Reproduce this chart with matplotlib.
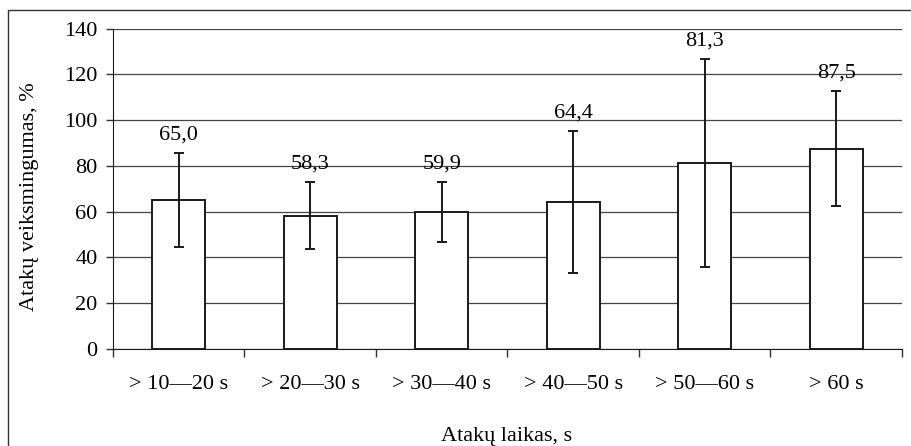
import matplotlib.pyplot as plt
import matplotlib.patches as mpatches
import numpy as np

plt.rcParams['font.family'] = ['Liberation Serif', 'DejaVu Serif']

categories = ['> 10—20 s', '> 20—30 s', '> 30—40 s', '> 40—50 s', '> 50—60 s', '> 60 s']
values = [65.0, 58.3, 59.9, 64.4, 81.3, 87.5]
errors = [20.6, 14.5, 13.1, 31.0, 45.3, 25.1]
value_labels = ['65,0', '58,3', '59,9', '64,4', '81,3', '87,5']

fs = 16

fig = plt.figure(figsize=(9.12, 4.46), dpi=100)
ax = fig.add_axes([113 / 912, 1 - 349 / 446, (902 - 113) / 912, (349 - 28.5) / 446])

# outer frame around the whole chart
frame = mpatches.Rectangle((8 / 912, -0.05), 1.0, 1 - 10 / 446 + 0.05, transform=fig.transFigure,
                           fill=False, edgecolor='#333333', linewidth=1.0)
fig.patches.append(frame)

x = np.arange(len(categories))
ax.bar(x, values, width=0.4, color='white', edgecolor='#1a1a1a', linewidth=1.4, zorder=3)
ax.errorbar(x, values, yerr=errors, fmt='none', ecolor='#1a1a1a', elinewidth=1.4,
            capsize=3.5, capthick=1.4, zorder=4)

for xi, v, e, lab in zip(x, values, errors, value_labels):
    ax.annotate(lab, (xi, v + e), xytext=(0, 6), textcoords='offset points',
                ha='center', va='bottom', fontsize=fs)

ax.set_xlim(-0.5, len(categories) - 0.5)
ax.set_ylim(0, 140)
ax.set_yticks(np.arange(0, 141, 20))
ax.yaxis.grid(True, color='#444444', linewidth=0.9, zorder=0)
ax.set_axisbelow(True)

# ticks at category boundaries, labels at centers
ax.set_xticks(np.arange(-0.5, len(categories), 1.0))
ax.set_xticklabels([])
ax.set_xticks(x, minor=True)
ax.set_xticklabels(categories, minor=True, fontsize=fs)
ax.tick_params(axis='x', which='major', direction='out', length=6, width=1, color='#333333')
ax.tick_params(axis='x', which='minor', length=0, pad=19)
ax.tick_params(axis='y', direction='out', length=5, width=1, color='#333333', labelsize=fs, pad=6)

for s in ['top', 'right']:
    ax.spines[s].set_visible(False)
ax.spines['left'].set_color('#1a1a1a')
ax.spines['bottom'].set_color('#1a1a1a')

ax.set_ylabel('Atakų veiksmingumas, %', fontsize=fs)
ax.yaxis.set_label_coords(-0.094, 0.474)
fig.text(507 / 912, 1 - 436 / 446, 'Atakų laikas, s', ha='center', va='center', fontsize=fs)

fig.savefig('out.png', dpi=100)
